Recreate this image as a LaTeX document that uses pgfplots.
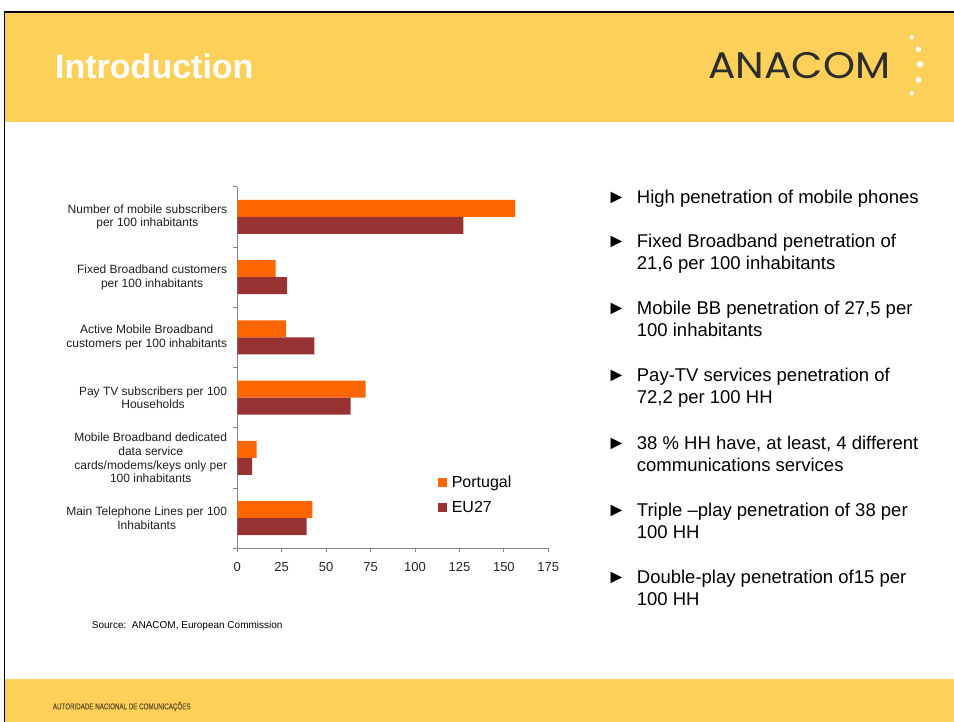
\documentclass[border=0pt]{standalone}
\usepackage{pgfplots}
\pgfplotsset{compat=1.18}
\usepackage{fontspec}
\setmainfont{Liberation Sans}
\newfontfamily\logofont[FakeStretch=1.1]{Poppins}
\newfontfamily\footfont[FakeStretch=0.74,FakeBold=0.6]{Liberation Sans}
\definecolor{band}{RGB}{253,209,89}
\definecolor{ptorange}{RGB}{255,102,0}
\definecolor{eured}{RGB}{153,51,51}
\definecolor{axgray}{RGB}{134,134,134}
\definecolor{logogray}{RGB}{45,45,45}
\definecolor{foottext}{RGB}{105,85,40}
\begin{document}
\begin{tikzpicture}[x=1pt,y=1pt]
\path[use as bounding box, fill=white] (0,0) rectangle (954,722);
\fill[band] (5,600.3) rectangle (954,709.5);
\fill[band] (5,0) rectangle (954,43);
\draw[line width=1.6pt] (4.5,0) -- (4.5,710) -- (954,710);
\node[anchor=base west, inner sep=0, text=white, font=\fontsize{34}{40}\selectfont\bfseries] at (55,643.7) {Introduction};
\node[anchor=base west, inner sep=0, text=logogray, font=\logofont\fontsize{37}{40}\selectfont] at (708.3,643.7) {ANACOM};
\fill[white] (911.7,684.7) circle (2.2);
\fill[white] (918.3,672.7) circle (2.8);
\fill[white] (920,657.7) circle (3.3);
\fill[white] (918.3,642) circle (2.8);
\fill[white] (911.7,628.7) circle (2.2);
\node[anchor=base west, inner sep=0, text=foottext, font=\footfont\fontsize{8.4}{10}\selectfont] at (52.7,12.7) {AUTORIDADE NACIONAL DE COMUNICAÇÕES};
\node[anchor=base west, inner sep=0, font=\fontsize{10}{12}\selectfont] at (91.7,93.3) {Source:\ \ ANACOM, European Commission};
% bullets
\foreach \yy/\txt/\b in {
  203.3/{High penetration of mobile phones}/1,
  247.7/{Fixed Broadband penetration of}/1,
  270.0/{21,6 per 100 inhabitants}/0,
  314.3/{Mobile BB penetration of 27,5 per}/1,
  336.5/{100 inhabitants}/0,
  381.7/{Pay-TV services penetration of}/1,
  404.0/{72,2 per 100 HH}/0,
  449.8/{38 \% HH have, at least, 4 different}/1,
  471.8/{communications services}/0,
  516.7/{Triple –play penetration of 38 per}/1,
  538.7/{100 HH}/0,
  583.3/{Double-play penetration of15 per}/1,
  605.5/{100 HH}/0}{
  \node[anchor=base west, inner sep=0, font=\fontsize{18.5}{22}\selectfont] at (636.7,722-\yy) {\txt};
  \ifnum\b=1
    \node[anchor=base west, inner sep=0, font=\fontsize{19.5}{22}\selectfont] at (606.6,722-\yy) {►};
  \fi
}
\begin{axis}[
  at={(237.3pt,173.7pt)}, anchor=south west,
  scale only axis, width=311pt, height=361.6pt,
  xmin=0, xmax=175, ymin=-0.5, ymax=5.5,
  xbar, bar width=17pt,
  axis x line*=bottom, axis y line*=left,
  axis line style={axgray, line width=0.8pt, -},
  xtick={0,25,...,175},
  ytick={-0.5,0.5,...,5.5},
  yticklabels={,,,,,,,},
  extra y ticks={0,1,2,3,4,5},
  extra y tick labels={
    {Main Telephone Lines per 100\\Inhabitants},
    {Mobile Broadband dedicated\\data service\\cards/modems/keys only per\\100 inhabitants},
    {Pay TV subscribers per 100\\Households},
    {Active Mobile Broadband\\customers per 100 inhabitants},
    {Fixed Broadband customers\\per 100 inhabitants},
    {Number of mobile subscribers\\per 100 inhabitants}},
  extra y tick style={major tick length=0pt, tick style={draw=none}},
  tick align=outside,
  major tick length=4pt,
  tick style={axgray, line width=0.8pt},
  /pgf/number format/assume math mode=true,
  xticklabel style={font=\fontsize{13}{15}\selectfont, anchor=base, inner sep=0pt, yshift=-19.7pt, text=black!85},
  yticklabel style={font=\fontsize{12}{13.8}\selectfont, align=center, anchor=east, inner sep=0pt, xshift=-10pt, text=black!88},
  legend style={at={(0.646,0.205)}, anchor=north west, draw=none, fill=none,
     font=\fontsize{16}{18}\selectfont, inner sep=0pt, row sep=8pt, column sep=3pt,
     nodes={inner sep=2pt}},
  legend cell align=left,
  legend image code/.code={\fill[#1] (0pt,-4.5pt) rectangle (8.4pt,4.5pt);},
]
\addplot[fill=ptorange, draw=none, bar shift=8.5pt] coordinates {(42.2,0) (10.9,1) (72.2,2) (27.5,3) (21.6,4) (156.3,5)};
\addplot[fill=eured, draw=none, bar shift=-8.5pt] coordinates {(39.0,0) (8.3,1) (63.8,2) (43.3,3) (28.1,4) (127.2,5)};
\legend{Portugal, EU27}
\end{axis}
\end{tikzpicture}
\end{document}
